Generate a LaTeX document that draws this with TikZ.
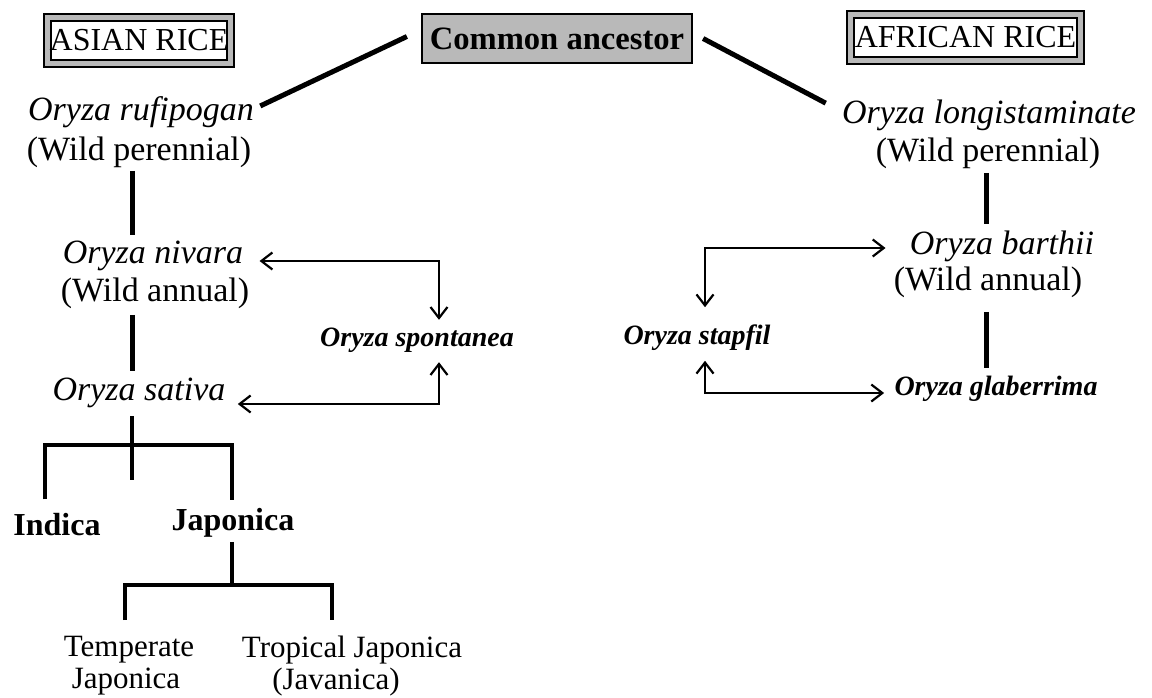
\documentclass[tikz,border=0pt]{standalone}
\usepackage{fontspec}
\setmainfont{Liberation Serif}
\usetikzlibrary{arrows.meta,calc}
\begin{document}
\begin{tikzpicture}[x=0.5pt,y=-0.5pt,
  txt/.style={inner sep=0pt, font=\fontsize{17}{20}\selectfont},
  itx/.style={inner sep=0pt, font=\fontsize{17}{20}\selectfont\itshape},
  bix/.style={inner sep=0pt, font=\fontsize{14}{16}\selectfont\bfseries\itshape},
  bdx/.style={inner sep=0pt, font=\fontsize{16}{18}\selectfont\bfseries},
  lowx/.style={inner sep=0pt, font=\fontsize{15.5}{17}\selectfont},
  ricebox/.style={draw=black, line width=0.9pt, double=gray!55, double distance=2.6pt, fill=white,
     inner sep=0pt, minimum height=23pt, font=\fontsize{16}{18}\selectfont},
  cabox/.style={draw=black, line width=1.1pt, fill=gray!55, inner sep=0pt,
     minimum width=135pt, minimum height=24.5pt, font=\fontsize{16.3}{19}\selectfont\bfseries},
  thickln/.style={line width=2.5pt},
  treeln/.style={line width=2pt},
  arr/.style={line width=1.1pt, {Straight Barb[length=5.5pt,width=8.5pt]}-{Straight Barb[length=5.5pt,width=8.5pt]}}
]
\path[use as bounding box, fill=white] (0,0) rectangle (1152,697);

% header boxes
\node[ricebox, minimum width=91.5pt] (asian) at (139,40.5) {ASIAN RICE};
\node[cabox] (ca) at (557,38.5) {Common ancestor};
\node[ricebox, minimum width=115pt] (african) at (965.5,37.5) {AFRICAN RICE};

% Asian side
\node[itx] (ruf1) at (141,112) {Oryza rufipogan};
\node[txt] (ruf2) at (139,152) {(Wild perennial)};
\node[itx] (niv1) at (153,256) {Oryza nivara};
\node[txt] (niv2) at (155,293) {(Wild annual)};
\node[itx] (sat) at (139,393) {Oryza sativa};
\node[bix] (spont) at (417,340) {Oryza spontanea};
\node[bdx] (indica) at (57,525) {Indica};
\node[bdx] (japonica) at (233,523) {Japonica};
\node[lowx] (temp1) at (129,650) {Temperate};
\node[lowx] (temp2) at (126,682) {Japonica};
\node[lowx] (trop1) at (352,650) {Tropical Japonica};
\node[lowx] (trop2) at (336,682) {(Javanica)};

% African side
\node[itx] (lon1) at (989,115) {Oryza longistaminate};
\node[txt] (lon2) at (988,153) {(Wild perennial)};
\node[itx] (bar1) at (1002,246) {Oryza barthii};
\node[txt] (bar2) at (988,282) {(Wild annual)};
\node[bix] (glab) at (996,389) {Oryza glaberrima};
\node[bix] (stap) at (697,338) {Oryza stapfil};

% helper coordinates (column lines and junctions)
\coordinate (colL) at (132,0);
\coordinate (colR) at (986,0);
\coordinate (sx) at (132,445);
\coordinate (sxe) at (132,480);
\coordinate (jx) at (232,585);

% thick lines from common ancestor
\draw[thickln] ([xshift=-7pt,yshift=1pt]ca.west) -- ([xshift=3pt,yshift=-5pt]ruf1.north east);
\draw[thickln] ([xshift=5pt]ca.east) -- ([xshift=-8pt,yshift=-2pt]lon1.north west);

% Asian vertical lines
\draw[thickln] ([yshift=-1.5pt]ruf2.south -| colL) -- ([yshift=3pt]niv1.north -| colL);
\draw[thickln] ([yshift=-3pt]niv2.south -| colL) -- ([yshift=3.5pt]sat.north -| colL);

% sativa tree
\draw[treeln] ([yshift=-4pt]sat.south -| colL) -- (sxe);
\draw[treeln] ([yshift=7pt]indica.north -| 45,0) |- (sx) -| ([yshift=4pt]japonica.north -| jx);
\draw[treeln] ([yshift=-2pt]japonica.south -| jx) -- (jx);
\draw[treeln] ([yshift=8pt]temp1.north -| 125,0) |- (jx) -| ([yshift=8pt]trop1.north -| 332,0);

% Asian arrows
\draw[arr] ([xshift=8pt,yshift=-2.5pt]niv1.east) -| ([xshift=11pt,yshift=3.75pt]spont.north);
\draw[arr] ([xshift=6pt,yshift=-5.5pt]sat.east) -| ([xshift=11pt,yshift=-4.75pt]spont.south);

% African vertical lines
\draw[thickln] ([yshift=-2pt]lon2.south -| colR) -- ([yshift=3pt]bar1.north -| colR);
\draw[thickln] ([yshift=-7pt]bar2.south -| colR) -- ([yshift=4pt]glab.north -| colR);

% African arrows
\draw[arr] ([xshift=-12pt,yshift=-1pt]bar1.west) -| ([xshift=4pt,yshift=8.75pt]stap.north);
\draw[arr] ([xshift=-5pt,yshift=-2pt]glab.west) -| ([xshift=4pt,yshift=-4.75pt]stap.south);
\end{tikzpicture}
\end{document}
